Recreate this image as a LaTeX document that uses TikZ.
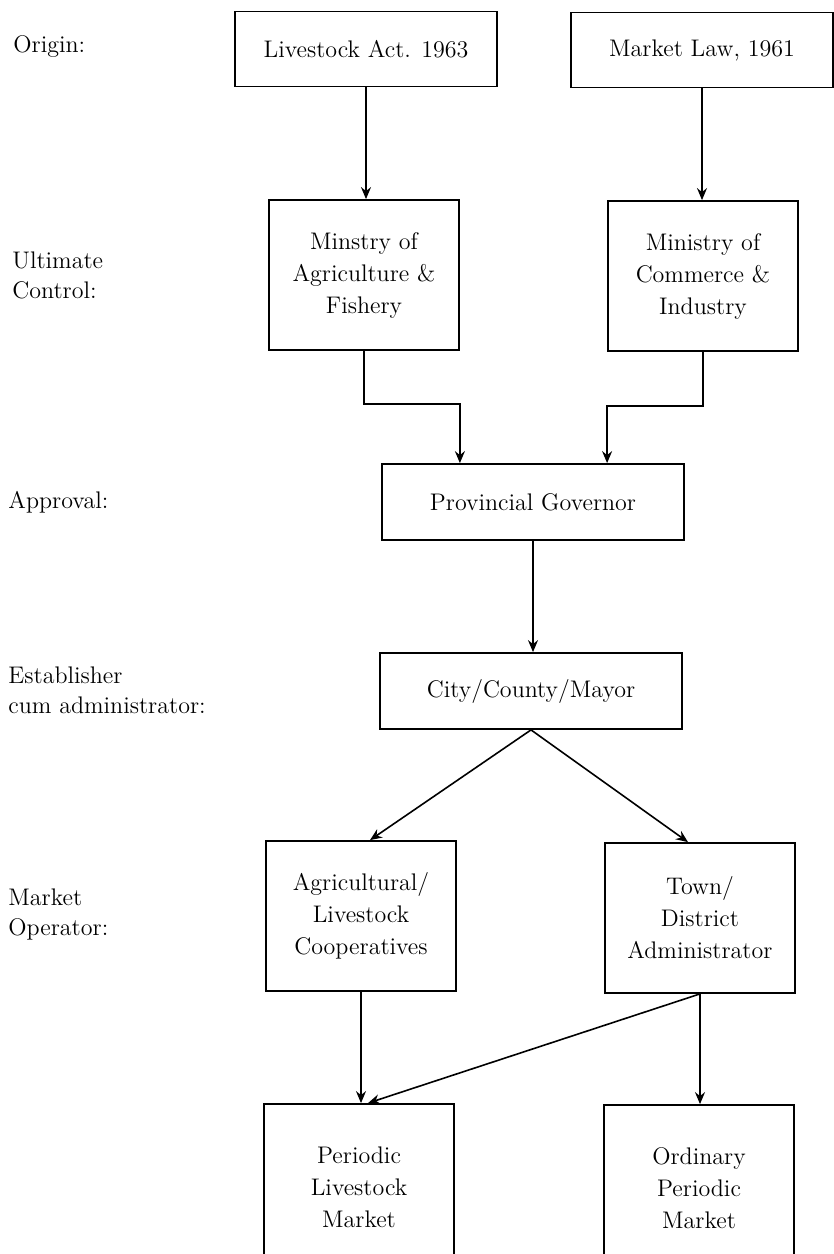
\documentclass[tikz,border=0pt]{standalone}
\usetikzlibrary{arrows.meta}
\begin{document}
\begin{tikzpicture}[x=0.5pt,y=-0.5pt,
  box/.style={draw,line width=0.9pt,align=center,inner sep=2pt,font=\fontsize{12}{16}\selectfont},
  wide/.style={box,minimum width=131pt,minimum height=37.5pt},
  mid/.style={box,minimum width=151pt,minimum height=38pt},
  col/.style={box,minimum width=95pt,minimum height=75pt},
  lbl/.style={anchor=west,align=left,inner sep=0pt,font=\fontsize{12}{15}\selectfont},
  arr/.style={line width=0.8pt,-{Stealth[length=6pt,width=5pt,inset=2pt]}}]
  \useasboundingbox (0,0) rectangle (834,1254);

  % Level labels
  \node[lbl] (origin) at (13,47) {Origin:};
  \node[lbl] (control) at (12,275) {Ultimate\\Control:};
  \node[lbl] (approval) at (8,502) {Approval:};
  \node[lbl] (establisher) at (8,690) {Establisher\\cum administrator:};
  \node[lbl] (operator) at (8,914) {Market\\Operator:};

  % Origin
  \node[wide] (act) at (366,49) {Livestock Act. 1963};
  \node[wide] (law) at (702,50) {Market Law, 1961};

  % Ultimate control
  \node[col] (agri) at (364,275) {Minstry of\\Agriculture \&\\Fishery};
  \node[col] (comm) at (703,276) {Ministry of\\Commerce \&\\Industry};

  % Approval and establisher
  \node[mid] (gov) at (533,502) {Provincial Governor};
  \node[mid] (city) at (531,691) {City/County/Mayor};

  % Market operator
  \node[col] (coop) at (361,916) {Agricultural/\\Livestock\\Cooperatives};
  \node[col] (town) at (700,918) {Town/\\District\\Administrator};

  % Markets (run off the page foot)
  \node[col,minimum height=83pt] (livemkt) at (359,1187) {Periodic\\Livestock\\Market};
  \node[col,minimum height=83pt] (ordmkt) at (699,1188) {Ordinary\\Periodic\\Market};

  % Connectors
  \draw[arr] (act.south) -- (act.south |- agri.north);
  \draw[arr] (law.south) -- (law.south |- comm.north);
  \draw[arr] (agri.south) -- ++(0,53) -| (agri.east |- gov.north);
  \draw[arr] (comm.south) -- ++(0,54) -| (comm.west |- gov.north);
  \draw[arr] (gov.south) -- (gov.south |- city.north);
  \draw[arr] (city.south) -- ([xshift=4.5pt]coop.north);
  \draw[arr] (city.south) -- ([xshift=-6pt]town.north);
  \draw[arr] (coop.south) -- (coop.south |- livemkt.north);
  \draw[arr] (town.south) -- ([xshift=4.5pt]livemkt.north);
  \draw[arr] (town.south) -- (town.south |- ordmkt.north);
\end{tikzpicture}
\end{document}
